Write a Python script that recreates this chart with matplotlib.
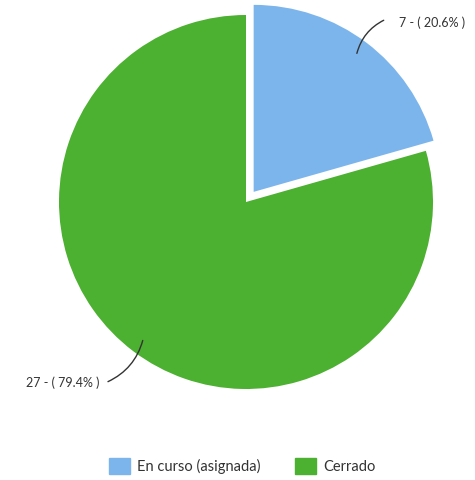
import numpy as np
import matplotlib.pyplot as plt

labels = ["En curso (asignada)", "Cerrado"]
values = [7, 27]
colors = ["#7cb5ec", "#4cb030"]

W, H = 475, 480
fig = plt.figure(figsize=(W / 100, H / 100), dpi=100)
ax = fig.add_axes([0, 0, 1, 1])

cx, cy, r = 246, H - 202, 187
explode = [12.7, 0]  # in pixels (pie does not scale explode by radius)
wedges, _ = ax.pie(values, colors=colors, startangle=90, counterclock=False,
                   explode=explode, center=(cx, cy), radius=r,
                   wedgeprops=dict(linewidth=0), frame=True)
ax.set_xlim(0, W)
ax.set_ylim(0, H)
ax.set_aspect("equal")
ax.axis("off")

total = sum(values)
font = "Lato"
label_side = [1, -1]
for w, v, ex, side in zip(wedges, values, explode, label_side):
    mid = np.deg2rad((w.theta1 + w.theta2) / 2)
    ox = cx + ex * np.cos(mid)
    oy = cy + ex * np.sin(mid)
    p0 = (ox + 0.91 * r * np.cos(mid), oy + 0.91 * r * np.sin(mid))
    if side > 0:
        p1 = (p0[0] + 30, p0[1] + 37)
        txt_xy = (p1[0] + 13, p1[1] - 4)
        ha = "left"
    else:
        p1 = (p0[0] - 38, p0[1] - 45)
        txt_xy = (p1[0] - 6, p1[1])
        ha = "right"
    ax.annotate("", xy=p1, xytext=p0,
                arrowprops=dict(arrowstyle="-", color="#333333", lw=1,
                                connectionstyle="arc3,rad=-0.25"))
    pct = v / total * 100
    ax.text(txt_xy[0], txt_xy[1], f"{v} - ( {pct:.1f}% )", ha=ha, va="center",
            fontsize=9, color="#333333", family=font)

# legend
handles = [plt.Rectangle((0, 0), 1, 1, color=c) for c in colors]
fig.legend(handles, labels, loc="center", bbox_to_anchor=(0.51, 1 - 466 / H),
           ncol=2, frameon=False, handlelength=1.4, handleheight=1.4,
           columnspacing=2.4, handletextpad=0.5,
           prop=dict(family=font, size=10.5))
for t in fig.legends[0].get_texts():
    t.set_color("#333333")

fig.savefig("out.png", dpi=100)
